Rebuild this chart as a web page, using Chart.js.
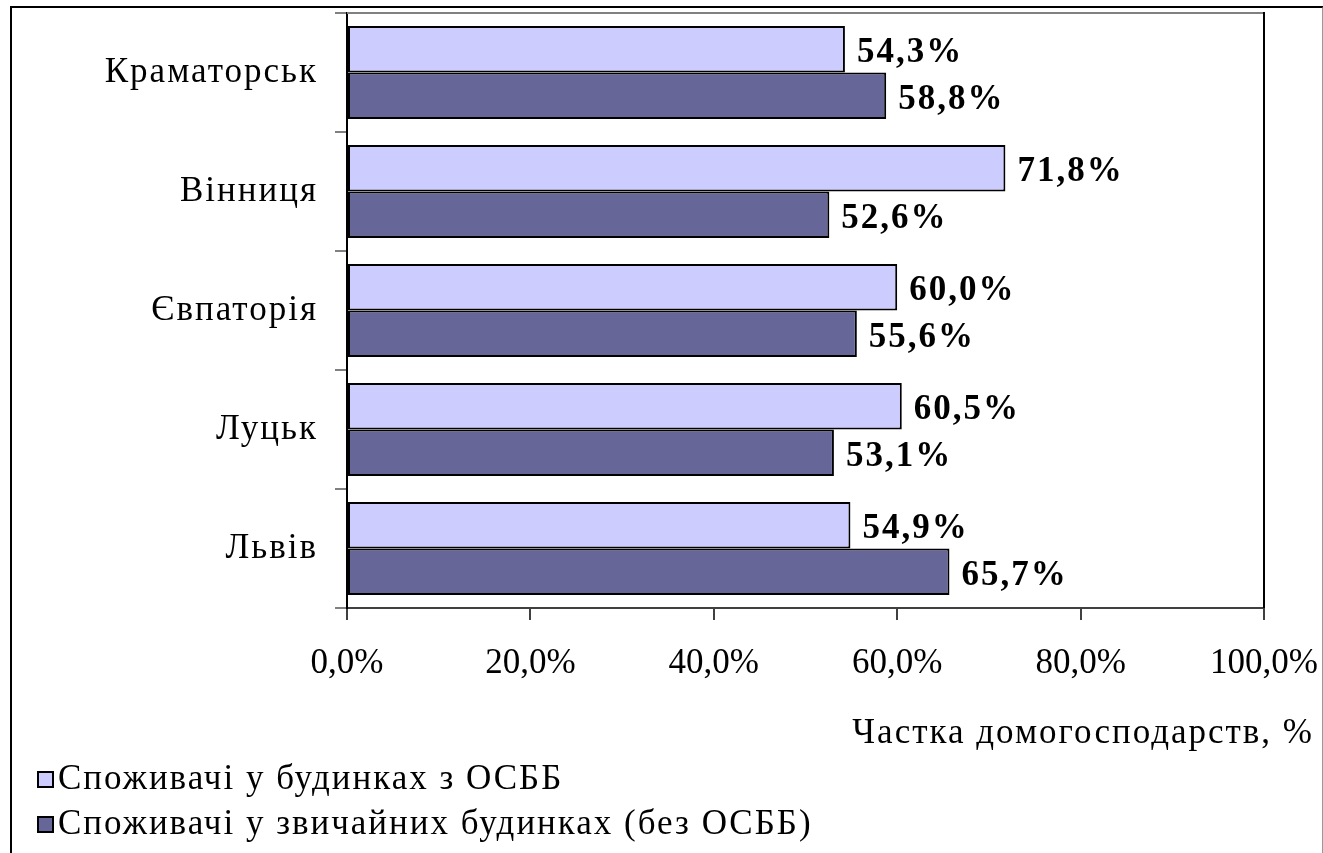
<!DOCTYPE html>
<html>
<head>
<meta charset="utf-8">
<script src="https://cdn.jsdelivr.net/npm/chart.js@4"></script>
<style>
  html, body { margin: 0; padding: 0; background: #fff; overflow: hidden; }
  #frame { position: absolute; left: 10px; top: 6px; width: 1310px; height: 900px;
           border-top: 2px solid #000; border-left: 2px solid #000; border-right: 2px solid #999; }
  #wrap { position: absolute; left: 0; top: 0; width: 1323px; height: 853px; }
</style>
</head>
<body>
<div id="frame"></div>
<div id="wrap"><canvas id="myChart" width="1323" height="853"></canvas></div>
<script>
const cities = ["Краматорськ", "Вінниця", "Євпаторія", "Луцьк", "Львів"];
const withOsbb = [54.3, 71.8, 60.0, 60.5, 54.9];
const withoutOsbb = [58.8, 52.6, 55.6, 53.1, 65.7];
const xTicks = [0, 20, 40, 60, 80, 100];
const seriesNames = ["Споживачі у будинках з ОСББ", "Споживачі у звичайних будинках (без ОСББ)"];
const axisTitle = "Частка домогосподарств, %";

const serif = "'Liberation Serif', 'Times New Roman', serif";
const pct = v => v.toFixed(1).replace('.', ',') + '%';

// labels, plot border, axis title and legend
const extras = {
  id: 'extras',
  beforeDraw(chart) {
    // the original text is a bit spaced out
    chart.ctx.letterSpacing = '2px';
  },
  afterDatasetsDraw(chart) {
    const ctx = chart.ctx;
    const a = chart.chartArea;
    ctx.save();
    // plot border top + right
    ctx.lineWidth = 2;
    ctx.strokeStyle = '#808080';
    ctx.beginPath(); ctx.moveTo(a.left, a.top); ctx.lineTo(a.right, a.top); ctx.stroke();
    ctx.strokeStyle = '#000';
    ctx.beginPath(); ctx.moveTo(a.right, a.top - 1); ctx.lineTo(a.right, a.bottom); ctx.stroke();

    // value labels
    ctx.fillStyle = '#000';
    ctx.font = 'bold 35px ' + serif;
    ctx.textAlign = 'left';
    ctx.textBaseline = 'middle';
    chart.data.datasets.forEach((ds, i) => {
      chart.getDatasetMeta(i).data.forEach((el, j) => {
        ctx.fillText(pct(ds.data[j]), el.x + 12, el.y + 4);
      });
    });

    // axis title
    ctx.font = '35px ' + serif;
    ctx.textAlign = 'right';
    ctx.fillText(axisTitle, 1314, 734);

    // legend
    ctx.textAlign = 'left';
    chart.data.datasets.forEach((ds, i) => {
      const y = 779 + i * 45;
      ctx.fillStyle = ds.backgroundColor;
      ctx.fillRect(38, y - 7, 15, 15);
      ctx.strokeStyle = '#000';
      ctx.lineWidth = 2;
      ctx.strokeRect(38, y - 7, 15, 15);
      ctx.fillStyle = '#000';
      ctx.fillText(ds.label, 58, y + 1);
    });
    ctx.restore();
    // x tick labels are drawn after this, without extra spacing
    ctx.letterSpacing = '0px';
  }
};

const ctx = document.getElementById('myChart').getContext('2d');
const myChart = new Chart(ctx, {
  type: 'bar',
  data: {
    labels: cities,
    datasets: [{
      label: seriesNames[0],
      data: withOsbb,
      backgroundColor: '#CCCCFF',
      borderColor: '#000',
      borderWidth: 2,
      borderSkipped: false,
      categoryPercentage: 0.78,
      barPercentage: 1
    },
    {
      label: seriesNames[1],
      data: withoutOsbb,
      backgroundColor: '#666699',
      borderColor: '#000',
      borderWidth: 2,
      borderSkipped: false,
      categoryPercentage: 0.78,
      barPercentage: 1
    }]
  },
  options: {
    indexAxis: 'y',
    responsive: false,
    animation: false,
    layout: { padding: { left: 0, top: 13, right: 59, bottom: 0 } },
    plugins: {
      legend: { display: false },
      tooltip: { enabled: false }
    },
    scales: {
      x: {
        min: 0,
        max: 100,
        afterBuildTicks: s => { s.ticks = xTicks.map(v => ({ value: v })); },
        afterFit: s => { s.height = 245; s.paddingLeft = 0; s.paddingRight = 0; },
        ticks: {
          color: '#000',
          font: { family: serif, size: 35 },
          padding: 23,
          callback: v => pct(v),
          maxRotation: 0,
          z: 1
        },
        grid: { drawOnChartArea: false, drawTicks: true, tickLength: 12, color: '#404040', lineWidth: 2 },
        border: { display: true, color: '#404040', width: 2 }
      },
      y: {
        afterFit: s => { s.width = 347; s.paddingTop = 0; s.paddingBottom = 0; },
        ticks: {
          color: '#000',
          font: { family: serif, size: 35 },
          padding: 17
        },
        grid: { drawOnChartArea: false, drawTicks: true, tickLength: 12, color: '#808080', lineWidth: 2, offset: true },
        border: { display: true, color: '#000', width: 2 }
      }
    }
  },
  plugins: [extras]
});
</script>
</body>
</html>
